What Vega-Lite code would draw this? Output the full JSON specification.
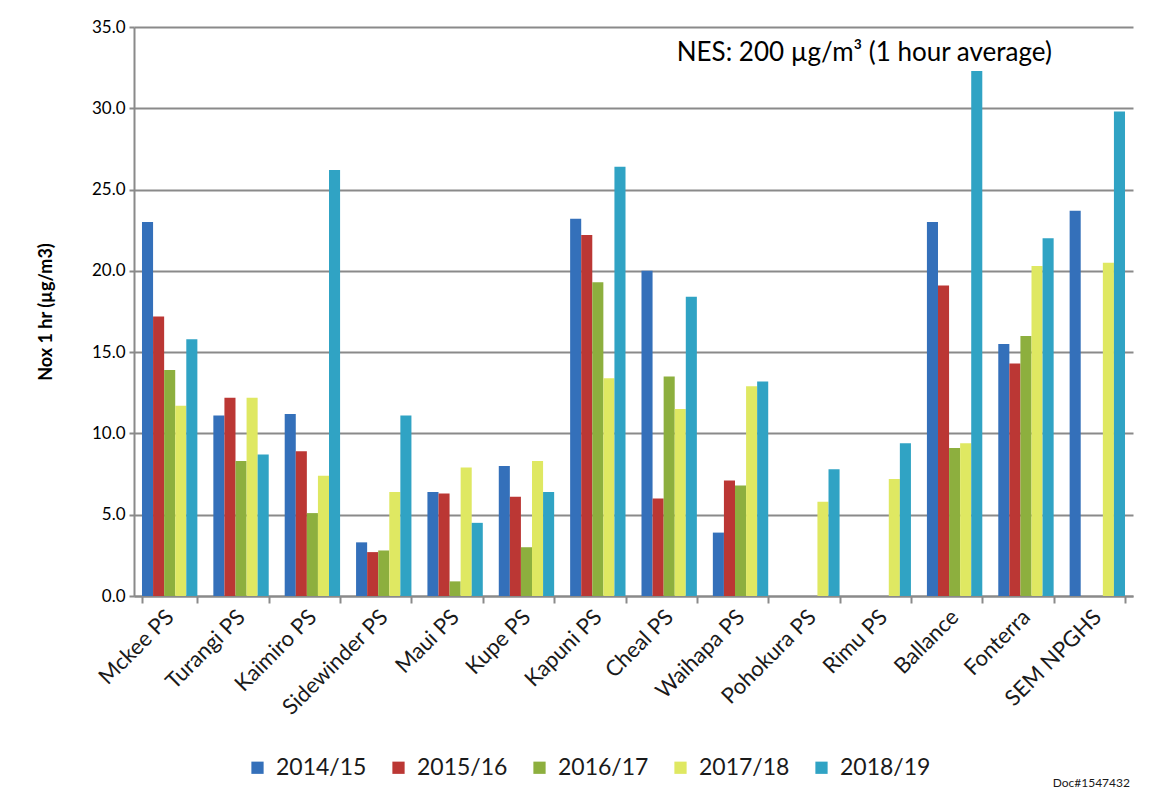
{
  "$schema": "https://vega.github.io/schema/vega-lite/v6.json",
  "width": 999,
  "height": 569,
  "autosize": "none",
  "padding": {"left": 134, "top": 27, "right": 17, "bottom": 209},
  "background": "white",
  "config": {"font": "Lato", "view": {"stroke": null}},
  "data": {"values": [
    {"site": "Mckee PS", "year": "2014/15", "value": 23.0},
    {"site": "Mckee PS", "year": "2015/16", "value": 17.2},
    {"site": "Mckee PS", "year": "2016/17", "value": 13.9},
    {"site": "Mckee PS", "year": "2017/18", "value": 11.7},
    {"site": "Mckee PS", "year": "2018/19", "value": 15.8},
    {"site": "Turangi PS", "year": "2014/15", "value": 11.1},
    {"site": "Turangi PS", "year": "2015/16", "value": 12.2},
    {"site": "Turangi PS", "year": "2016/17", "value": 8.3},
    {"site": "Turangi PS", "year": "2017/18", "value": 12.2},
    {"site": "Turangi PS", "year": "2018/19", "value": 8.7},
    {"site": "Kaimiro PS", "year": "2014/15", "value": 11.2},
    {"site": "Kaimiro PS", "year": "2015/16", "value": 8.9},
    {"site": "Kaimiro PS", "year": "2016/17", "value": 5.1},
    {"site": "Kaimiro PS", "year": "2017/18", "value": 7.4},
    {"site": "Kaimiro PS", "year": "2018/19", "value": 26.2},
    {"site": "Sidewinder PS", "year": "2014/15", "value": 3.3},
    {"site": "Sidewinder PS", "year": "2015/16", "value": 2.7},
    {"site": "Sidewinder PS", "year": "2016/17", "value": 2.8},
    {"site": "Sidewinder PS", "year": "2017/18", "value": 6.4},
    {"site": "Sidewinder PS", "year": "2018/19", "value": 11.1},
    {"site": "Maui PS", "year": "2014/15", "value": 6.4},
    {"site": "Maui PS", "year": "2015/16", "value": 6.3},
    {"site": "Maui PS", "year": "2016/17", "value": 0.9},
    {"site": "Maui PS", "year": "2017/18", "value": 7.9},
    {"site": "Maui PS", "year": "2018/19", "value": 4.5},
    {"site": "Kupe PS", "year": "2014/15", "value": 8.0},
    {"site": "Kupe PS", "year": "2015/16", "value": 6.1},
    {"site": "Kupe PS", "year": "2016/17", "value": 3.0},
    {"site": "Kupe PS", "year": "2017/18", "value": 8.3},
    {"site": "Kupe PS", "year": "2018/19", "value": 6.4},
    {"site": "Kapuni PS", "year": "2014/15", "value": 23.2},
    {"site": "Kapuni PS", "year": "2015/16", "value": 22.2},
    {"site": "Kapuni PS", "year": "2016/17", "value": 19.3},
    {"site": "Kapuni PS", "year": "2017/18", "value": 13.4},
    {"site": "Kapuni PS", "year": "2018/19", "value": 26.4},
    {"site": "Cheal PS", "year": "2014/15", "value": 20.0},
    {"site": "Cheal PS", "year": "2015/16", "value": 6.0},
    {"site": "Cheal PS", "year": "2016/17", "value": 13.5},
    {"site": "Cheal PS", "year": "2017/18", "value": 11.5},
    {"site": "Cheal PS", "year": "2018/19", "value": 18.4},
    {"site": "Waihapa PS", "year": "2014/15", "value": 3.9},
    {"site": "Waihapa PS", "year": "2015/16", "value": 7.1},
    {"site": "Waihapa PS", "year": "2016/17", "value": 6.8},
    {"site": "Waihapa PS", "year": "2017/18", "value": 12.9},
    {"site": "Waihapa PS", "year": "2018/19", "value": 13.2},
    {"site": "Pohokura PS", "year": "2017/18", "value": 5.8},
    {"site": "Pohokura PS", "year": "2018/19", "value": 7.8},
    {"site": "Rimu PS", "year": "2017/18", "value": 7.2},
    {"site": "Rimu PS", "year": "2018/19", "value": 9.4},
    {"site": "Ballance", "year": "2014/15", "value": 23.0},
    {"site": "Ballance", "year": "2015/16", "value": 19.1},
    {"site": "Ballance", "year": "2016/17", "value": 9.1},
    {"site": "Ballance", "year": "2017/18", "value": 9.4},
    {"site": "Ballance", "year": "2018/19", "value": 32.3},
    {"site": "Fonterra", "year": "2014/15", "value": 15.5},
    {"site": "Fonterra", "year": "2015/16", "value": 14.3},
    {"site": "Fonterra", "year": "2016/17", "value": 16.0},
    {"site": "Fonterra", "year": "2017/18", "value": 20.3},
    {"site": "Fonterra", "year": "2018/19", "value": 22.0},
    {"site": "SEM NPGHS", "year": "2014/15", "value": 23.7},
    {"site": "SEM NPGHS", "year": "2017/18", "value": 20.5},
    {"site": "SEM NPGHS", "year": "2018/19", "value": 29.8}
  ]},
  "layer": [
    {
      "mark": {"type": "bar"},
      "encoding": {
        "x": {
          "field": "site", "type": "nominal",
          "scale": {
            "domain": ["Mckee PS", "Turangi PS", "Kaimiro PS", "Sidewinder PS", "Maui PS", "Kupe PS", "Kapuni PS", "Cheal PS", "Waihapa PS", "Pohokura PS", "Rimu PS", "Ballance", "Fonterra", "SEM NPGHS"],
            "paddingInner": 0.224, "paddingOuter": 0.112
          },
          "axis": {
            "title": null, "labelAngle": -45, "labelFontSize": 22, "labelColor": "#1a1a1a",
            "labelAlign": "right", "labelBaseline": "middle", "labelPadding": 10,
            "tickBand": "extent", "tickSize": 7, "tickColor": "#8a8a8a", "tickWidth": 2,
            "domainColor": "#8a8a8a", "domainWidth": 2
          }
        },
        "xOffset": {"field": "year", "type": "nominal", "scale": {"domain": ["2014/15", "2015/16", "2016/17", "2017/18", "2018/19"]}},
        "y": {
          "field": "value", "type": "quantitative",
          "scale": {"domain": [0, 35], "nice": false},
          "axis": {
            "title": "Nox 1 hr (µg/m3)", "titleFontSize": 18, "titleFontWeight": "bold", "titleColor": "black", "titlePadding": 36,
            "values": [0, 5, 10, 15, 20, 25, 30, 35], "format": ".1f",
            "labelFontSize": 17, "labelColor": "black", "labelPadding": 4,
            "grid": true, "gridColor": "#8a8a8a", "gridWidth": 2,
            "tickSize": 5, "tickColor": "#8a8a8a", "tickWidth": 2,
            "domainColor": "#8a8a8a", "domainWidth": 2
          }
        },
        "color": {
          "field": "year", "type": "nominal",
          "scale": {"domain": ["2014/15", "2015/16", "2016/17", "2017/18", "2018/19"], "range": ["#3470BA", "#BB3734", "#8DAF3E", "#DFE862", "#30A3C4"]},
          "legend": {
            "title": null, "orient": "none", "legendX": 112, "legendY": 729, "direction": "horizontal", "columns": 5,
            "labelFontSize": 23, "labelColor": "#1a1a1a", "symbolType": "square", "symbolSize": 150,
            "symbolStrokeWidth": 0, "columnPadding": 20, "labelOffset": 7
          }
        }
      }
    },
    {
      "data": {"values": [{}]},
      "mark": {"type": "text", "text": "NES: 200 µg/m³ (1 hour average)", "fontSize": 26, "align": "center", "baseline": "middle", "dx": -19, "color": "black"},
      "encoding": {"x": {"datum": "Rimu PS"}, "y": {"datum": 33.4}}
    },
    {
      "data": {"values": [{}]},
      "mark": {"type": "text", "text": "Doc#1547432", "fontSize": 12, "align": "center", "baseline": "middle", "color": "#1a1a1a", "dx": -6},
      "encoding": {"x": {"datum": "SEM NPGHS"}, "y": {"datum": -11.5}}
    }
  ]
}
